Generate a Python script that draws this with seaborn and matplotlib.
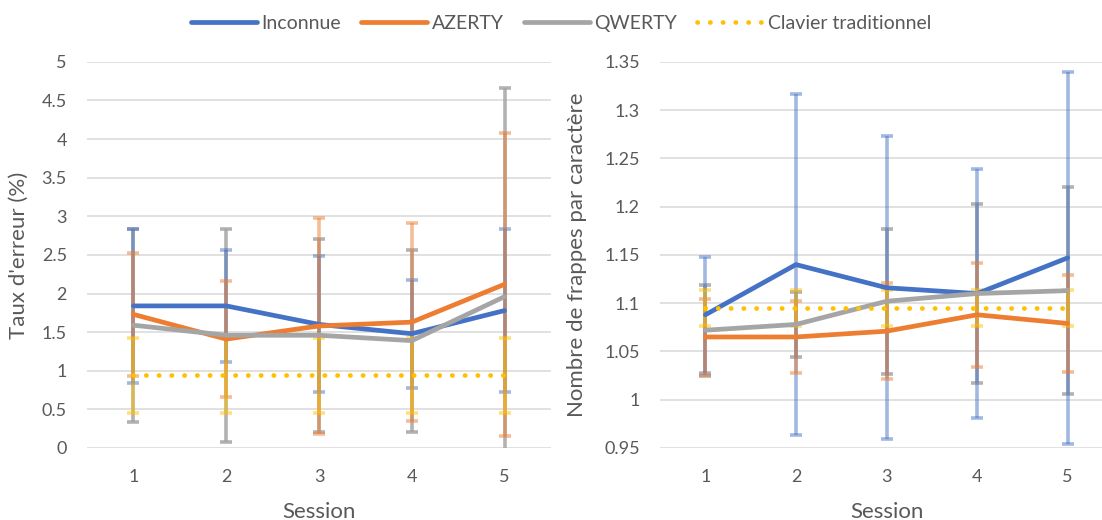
import numpy as np
import pandas as pd
import matplotlib
matplotlib.use("Agg")
import matplotlib.pyplot as plt
import seaborn as sns
from matplotlib.ticker import FuncFormatter, MultipleLocator

# ── Données ──────────────────────────────────────────────────
sessions = [1, 2, 3, 4, 5]
series = ["Inconnue", "AZERTY", "QWERTY", "Clavier traditionnel"]
couleurs = ["#4472C4", "#ED7D31", "#A5A5A5", "#FFC000"]
alphas_err = [0.5, 0.5, 0.85, 0.5]

# Taux d'erreur (%) : moyennes et écarts
err_inconnue = [1.84, 1.84, 1.60, 1.48, 1.78]
err_azerty = [1.73, 1.41, 1.58, 1.63, 2.12]
err_qwerty = [1.59, 1.46, 1.46, 1.39, 1.96]
err_clavier = [0.94, 0.94, 0.94, 0.94, 0.94]

sd_err_inconnue = [1.00, 0.73, 0.88, 0.70, 1.06]
sd_err_azerty = [0.80, 0.75, 1.40, 1.28, 1.96]
sd_err_qwerty = [1.25, 1.38, 1.25, 1.18, 2.70]
sd_err_clavier = [0.49, 0.49, 0.49, 0.49, 0.49]

# Nombre de frappes par caractère : moyennes et écarts
kspc_inconnue = [1.088, 1.140, 1.116, 1.110, 1.147]
kspc_azerty = [1.065, 1.065, 1.071, 1.088, 1.079]
kspc_qwerty = [1.072, 1.078, 1.102, 1.110, 1.113]
kspc_clavier = [1.095, 1.095, 1.095, 1.095, 1.095]

sd_kspc_inconnue = [0.060, 0.177, 0.157, 0.129, 0.193]
sd_kspc_azerty = [0.039, 0.037, 0.050, 0.054, 0.050]
sd_kspc_qwerty = [0.047, 0.034, 0.075, 0.093, 0.107]
sd_kspc_clavier = [0.019, 0.019, 0.019, 0.019, 0.019]

# ── Style ────────────────────────────────────────────────────
sns.set_theme(style="white")
plt.rcParams["font.family"] = ["Lato", "DejaVu Sans"]
GRIS_TEXTE = "#595959"
GRILLE = "#D9D9D9"
FS_TICK = 13
FS_TITRE = 16
FS_LEG = 14
ORDRE_BARRES = [2, 0, 1, 3]  # barres grises en dessous des autres


def tracer(ax, moyennes, ecarts, ylim, pas, ylabel, lab_x):
    # barres d'erreur (semi-transparentes) sous les courbes
    for i in ORDRE_BARRES:
        ax.errorbar(sessions, moyennes[i], yerr=ecarts[i], fmt="none",
                    ecolor=couleurs[i], alpha=alphas_err[i],
                    elinewidth=2.6, capsize=4, capthick=2.6, zorder=2)
    df = pd.DataFrame({"Session": sessions * 4,
                       "valeur": sum(moyennes, []),
                       "serie": np.repeat(series, len(sessions))})
    for nom, c in zip(series, couleurs):
        sous = df[df["serie"] == nom]
        if nom == "Clavier traditionnel":
            sns.lineplot(data=sous, x="Session", y="valeur", ax=ax, color=c,
                         lw=3.4, linestyle=(0, (0.05, 2.65)),
                         dash_capstyle="round", zorder=4, label=nom)
        else:
            sns.lineplot(data=sous, x="Session", y="valeur", ax=ax, color=c,
                         lw=3.4, zorder=3, label=nom)
    ax.set_xlim(0.5, 5.5)
    ax.set_ylim(*ylim)
    ax.yaxis.set_major_locator(MultipleLocator(pas))
    ax.yaxis.set_major_formatter(FuncFormatter(lambda v, p: f"{round(v, 3):g}"))
    ax.set_xticks(sessions)
    ax.grid(axis="y", color=GRILLE, lw=1.1)
    ax.grid(axis="x", visible=False)
    for s in ax.spines.values():
        s.set_visible(False)
    ax.tick_params(axis="both", length=0, labelsize=FS_TICK, labelcolor=GRIS_TEXTE)
    ax.tick_params(axis="x", pad=15)
    ax.tick_params(axis="y", pad=14.5)
    ax.set_xlabel("Session", fontsize=FS_TITRE, color=GRIS_TEXTE)
    ax.set_ylabel(ylabel, fontsize=FS_TITRE, color=GRIS_TEXTE)
    ax.xaxis.set_label_coords(0.5, -0.14)
    ax.yaxis.set_label_coords(lab_x, 0.5)
    ax.get_legend().remove()


fig = plt.figure(figsize=(11.02, 5.2), dpi=100)
ax1 = fig.add_axes([0.079, 0.1385, 0.421, 0.7425])
ax2 = fig.add_axes([0.599, 0.1385, 0.411, 0.7425])

tracer(ax1, [err_inconnue, err_azerty, err_qwerty, err_clavier],
       [sd_err_inconnue, sd_err_azerty, sd_err_qwerty, sd_err_clavier],
       (0, 5), 0.5, "Taux d'erreur (%)", -0.125)
tracer(ax2, [kspc_inconnue, kspc_azerty, kspc_qwerty, kspc_clavier],
       [sd_kspc_inconnue, sd_kspc_azerty, sd_kspc_qwerty, sd_kspc_clavier],
       (0.95, 1.35), 0.05, "Nombre de frappes par caractère", -0.161)

handles = ax1.get_lines()
poignees = [l for l in handles if l.get_label() in series]
fig.legend(poignees, series, loc="center", bbox_to_anchor=(0.509, 0.955),
           ncol=4, frameon=False, fontsize=FS_LEG, handlelength=3.4,
           handletextpad=0.23, columnspacing=1.03, labelcolor=GRIS_TEXTE)

fig.savefig("out.png", dpi=100)
